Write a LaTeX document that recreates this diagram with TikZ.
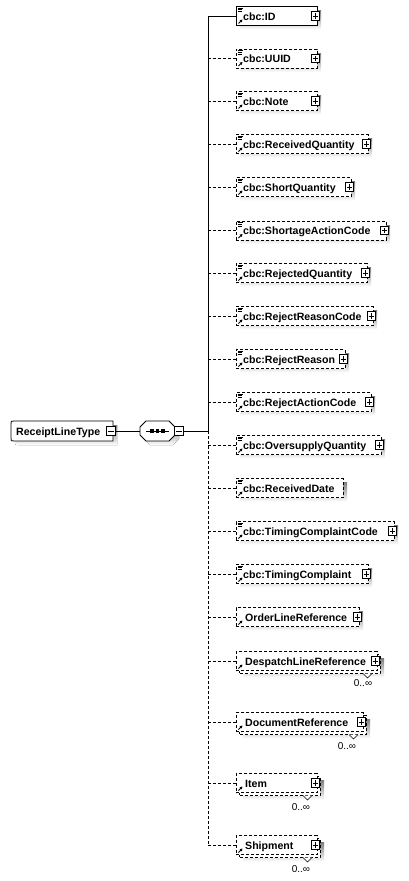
\documentclass[tikz,border=0pt]{standalone}
\usepackage{fontspec}
\setmainfont{Liberation Sans}
\usetikzlibrary{arrows.meta}
\definecolor{shade}{RGB}{192,192,192}
\tikzset{
  ebox/.style={draw,fill=white,rectangle,anchor=west,minimum height=19pt,inner sep=0pt,line width=.8pt},
  dbox/.style={dash pattern=on 3pt off 2pt},
  etext/.style={anchor=base west,inner sep=0pt,font=\fontsize{10.6}{13}\selectfont\bfseries},
  pbox/.style={draw,fill=white,solid,minimum size=8.5pt,inner sep=0pt,line width=.7pt,
    path picture={\draw[line width=.7pt] ([xshift=1.6pt]path picture bounding box.west) -- ([xshift=-1.6pt]path picture bounding box.east) ([yshift=-1.6pt]path picture bounding box.north) -- ([yshift=1.6pt]path picture bounding box.south);}},
  mbox/.style={draw,fill=white,solid,minimum size=8.5pt,inner sep=0pt,line width=.7pt,
    path picture={\draw[line width=.7pt] ([xshift=1.6pt]path picture bounding box.west) -- ([xshift=-1.6pt]path picture bounding box.east);}},
  conn/.style={line width=.8pt},
  dconn/.style={line width=.8pt,dash pattern=on 3pt off 2pt},
  multlabel/.style={font=\fontsize{10}{12}\selectfont,inner sep=0pt},
  icon arrow/.style={line width=.9pt,-{Triangle[length=2.6pt,width=2.8pt]}},
  hook/.style={inner sep=0pt,minimum width=35pt,minimum height=20pt},
}
\newcommand\cbcicon[1]{\draw[line width=.6pt] (237.5,#1-8) -- (243,#1-8) (237.5,#1-6.3) -- (242,#1-6.3) (237.5,#1-4.6) -- (242,#1-4.6);}
\newcommand\ebase[6]{% name, cy, R, text, text x, style
  \fill[shade] (240,#2-5.5) rectangle (#3+4,#2+13.5);
  \node[ebox,#6,minimum width=#3-236] (#1) at (236,#2) {};
  \draw[icon arrow] (238.5,#2+7.5) -- (242.5,#2+3.5);
  \node[etext] (#1t) at (#5,#2+4) {#4};
}
\newcommand\plusat[3]{\node[pbox] (#1p) at (#2-1.5,#3) {};}
\newcommand\melem[6]{% name, cy, R, text, label x, label y
  \fill[shade] (243,#2-2.5) rectangle (#3+7,#2+16.5);
  \draw[dbox,fill=white,line width=.8pt] (239,#2-6.5) rectangle (#3+3,#2+12.5);
  \draw[fill=white,line width=.6pt] (#3-14,#2+12.5) -- (#3-9.5,#2+17) -- (#3-5,#2+12.5);
  \node[ebox,dbox,minimum width=#3-236] (#1) at (236,#2) {};
  \draw[icon arrow] (238.5,#2+7.5) -- (242.5,#2+3.5);
  \node[etext] (#1t) at (245,#2+4) {#4};
  \node[pbox] (#1p) at (#3-1.5,#2) {};
  \node[multlabel] (#1m) at (#5,#6) {0..∞};
}
\begin{document}
\begin{tikzpicture}[x=1pt,y=-1pt]
\useasboundingbox (0,0) rectangle (408,881);
% root type
\fill[shade] (117,425) -- (18,425) .. controls (15,425) .. (15,428) -- (15,442) .. controls (15,445) .. (18,445) -- (117,445) -- cycle;
\draw[fill=white,line width=.8pt] (113,421) -- (14,421) .. controls (11,421) .. (11,424) -- (11,438) .. controls (11,441) .. (14,441) -- (113,441) -- cycle;
\node[hook,minimum width=102pt] (rlt) at (62,431) {};
\node[etext] (rltt) at (16,435) {ReceiptLineType};
\node[mbox] (rltm) at (111,431) {};
% sequence
\fill[shade] (150,425) -- (173,425) -- (179,431) -- (179,439) -- (173,445) -- (150,445) -- (144,439) -- (144,431) -- cycle;
\draw[fill=white,line width=.8pt] (146,421) -- (169,421) -- (175,427) -- (175,435) -- (169,441) -- (146,441) -- (140,435) -- (140,427) -- cycle;
\node[hook] (seq) at (157.5,431) {};
\draw[line width=.9pt] (146,431) -- (169,431);
\foreach \dx in {152,157.5,163} \fill (\dx-1.7,429.3) rectangle (\dx+1.7,432.7);
\node[mbox] (seqm) at (179,431) {};
% bus
\coordinate (bt) at (208,16);
\coordinate (bj) at (208,431);
\coordinate (bb) at (208,845);
\draw[conn] (rltm.east) -- (seq.west);
\draw[conn] (seqm.east) -- (bj);
\draw[conn] (bt) -- (bj);
\draw[dconn] (bj) -- (bb);
% elements
\ebase{id}{16}{317}{cbc:ID}{243}{solid}\cbcicon{16}\plusat{id}{317}{16}
\ebase{uuid}{58.5}{317}{cbc:UUID}{243}{dbox}\cbcicon{58.5}\plusat{uuid}{317}{58.5}
\ebase{note}{101}{317}{cbc:Note}{243}{dbox}\cbcicon{101}\plusat{note}{317}{101}
\ebase{rq}{144}{368}{cbc:ReceivedQuantity}{243}{dbox}\cbcicon{144}\plusat{rq}{368}{144}
\ebase{sq}{187}{351}{cbc:ShortQuantity}{243}{dbox}\cbcicon{187}\plusat{sq}{351}{187}
\ebase{sac}{230.5}{386}{cbc:ShortageActionCode}{243}{dbox}\cbcicon{230.5}\plusat{sac}{386}{230.5}
\ebase{rjq}{273}{367}{cbc:RejectedQuantity}{243}{dbox}\cbcicon{273}\plusat{rjq}{367}{273}
\ebase{rrc}{316}{373}{cbc:RejectReasonCode}{243}{dbox}\cbcicon{316}\plusat{rrc}{373}{316}
\ebase{rr}{359}{345}{cbc:RejectReason}{243}{dbox}\cbcicon{359}\plusat{rr}{345}{359}
\ebase{rac}{402}{371}{cbc:RejectActionCode}{243}{dbox}\cbcicon{402}\plusat{rac}{371}{402}
\ebase{oq}{445}{381}{cbc:OversupplyQuantity}{243}{dbox}\cbcicon{445}\plusat{oq}{381}{445}
\ebase{rd}{488}{343}{cbc:ReceivedDate}{243}{dbox}\cbcicon{488}
\ebase{tcc}{531}{394}{cbc:TimingComplaintCode}{243}{dbox}\cbcicon{531}\plusat{tcc}{394}{531}
\ebase{tc}{574}{368}{cbc:TimingComplaint}{243}{dbox}\cbcicon{574}\plusat{tc}{368}{574}
\ebase{olr}{617}{359}{OrderLineReference}{245}{dbox}\plusat{olr}{359}{617}
\melem{dlr}{661}{377}{DespatchLineReference}{363}{683}
\melem{dr}{722}{363}{DocumentReference}{347}{746}
\melem{item}{783}{317}{Item}{301}{807}
\melem{ship}{845}{317}{Shipment}{301}{869}
% connectors
\draw[conn] (bt) -- (id.west);
\foreach \n in {uuid,note,rq,sq,sac,rjq,rrc,rr,rac,oq,rd,tcc,tc,olr,dlr,dr,item,ship}
  \draw[dconn] (\n.west -| bt) -- (\n.west);
\end{tikzpicture}
\end{document}
